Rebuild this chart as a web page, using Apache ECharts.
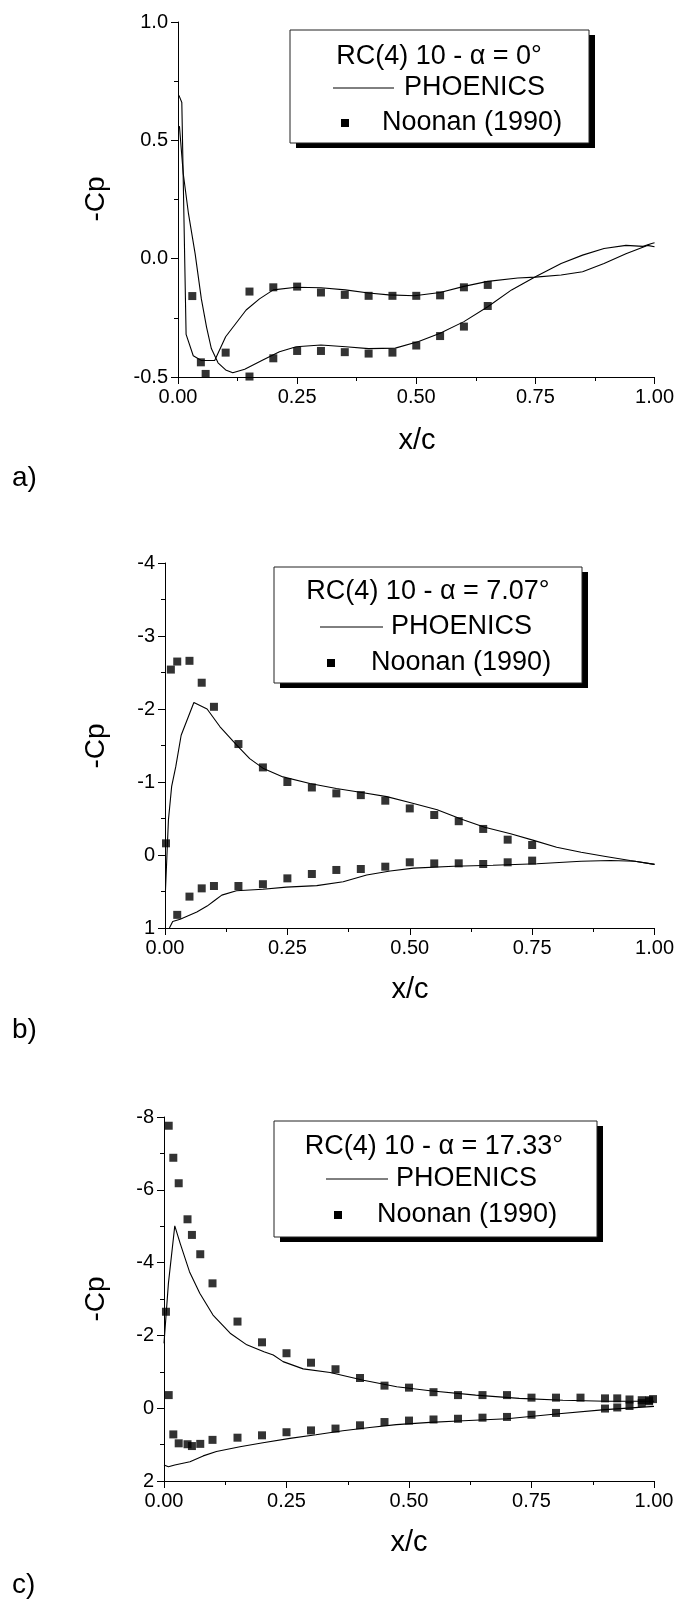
<!DOCTYPE html>
<html>
<head>
<meta charset="utf-8">
<script src="https://cdn.jsdelivr.net/npm/echarts@6/dist/echarts.min.js"></script>
<style>
html,body{margin:0;padding:0;background:#fff;}
#chart{width:677px;height:1600px;}
</style>
</head>
<body>
<div id="chart"></div>
<script>
// ---------- DATA ----------
var xTickLabels = ['0.00', '0.25', '0.50', '0.75', '1.00'];
var aYTickLabels = ['-0.5', '0.0', '0.5', '1.0'];
var bYTickLabels = ['-4', '-3', '-2', '-1', '0', '1'];
var cYTickLabels = ['-8', '-6', '-4', '-2', '0', '2'];

var panelLabels = ['a)', 'b)', 'c)'];
var legendTitles = ['RC(4) 10 - \u03b1 = 0\u00b0', 'RC(4) 10 - \u03b1 = 7.07\u00b0', 'RC(4) 10 - \u03b1 = 17.33\u00b0'];
var seriesNames = ['PHOENICS', 'Noonan (1990)'];

// Panel a) alpha = 0
var aPhoenicsA = [[0.002,0.69],[0.008,0.66],[0.017,-0.32],[0.032,-0.41],[0.049,-0.43],[0.077,-0.43],[0.10,-0.33],[0.143,-0.217],[0.171,-0.17],[0.20,-0.132],[0.248,-0.121],[0.30,-0.123],[0.351,-0.132],[0.40,-0.145],[0.442,-0.153],[0.496,-0.157],[0.55,-0.143],[0.60,-0.117],[0.65,-0.096],[0.713,-0.082],[0.75,-0.078],[0.804,-0.069],[0.849,-0.055],[0.894,-0.02],[0.94,0.021],[0.985,0.056],[1.0,0.05]];
var aPhoenicsB = [[0.003,0.56],[0.011,0.36],[0.022,0.19],[0.036,0.02],[0.049,-0.17],[0.06,-0.29],[0.07,-0.38],[0.084,-0.44],[0.10,-0.47],[0.115,-0.482],[0.14,-0.467],[0.178,-0.428],[0.213,-0.393],[0.248,-0.372],[0.30,-0.365],[0.352,-0.372],[0.40,-0.38],[0.456,-0.378],[0.505,-0.35],[0.55,-0.315],[0.60,-0.266],[0.65,-0.203],[0.70,-0.132],[0.75,-0.076],[0.804,-0.02],[0.849,0.015],[0.894,0.043],[0.94,0.056],[0.976,0.052],[0.994,0.064],[1.0,0.067]];
var aNoonan = [[0.030,-0.158],[0.048,-0.438],[0.058,-0.487],[0.10,-0.397],[0.15,-0.139],[0.15,-0.498],[0.20,-0.121],[0.20,-0.421],[0.25,-0.118],[0.25,-0.39],[0.30,-0.143],[0.30,-0.39],[0.35,-0.153],[0.35,-0.395],[0.40,-0.157],[0.40,-0.401],[0.45,-0.157],[0.45,-0.397],[0.50,-0.157],[0.50,-0.367],[0.55,-0.155],[0.55,-0.327],[0.60,-0.121],[0.60,-0.287],[0.65,-0.111],[0.65,-0.20]];

// Panel b) alpha = 7.07
var bPhoenicsUpper = [[0.001,0.48],[0.007,-0.48],[0.0136,-0.94],[0.022,-1.21],[0.033,-1.64],[0.059,-2.09],[0.086,-2.0],[0.112,-1.76],[0.146,-1.51],[0.173,-1.32],[0.2,-1.19],[0.241,-1.07],[0.296,-0.98],[0.35,-0.91],[0.405,-0.853],[0.453,-0.80],[0.5,-0.72],[0.556,-0.62],[0.606,-0.49],[0.653,-0.38],[0.706,-0.29],[0.753,-0.2],[0.80,-0.105],[0.85,-0.037],[0.90,0.02],[0.95,0.075],[1.0,0.128]];
var bPhoenicsLower = [[0.009,1.0],[0.0157,0.91],[0.031,0.88],[0.065,0.78],[0.086,0.70],[0.102,0.62],[0.116,0.55],[0.146,0.49],[0.2,0.47],[0.248,0.44],[0.31,0.42],[0.364,0.366],[0.412,0.275],[0.46,0.22],[0.508,0.18],[0.59,0.155],[0.67,0.14],[0.76,0.12],[0.85,0.085],[0.91,0.075],[0.96,0.085],[1.0,0.128]];
var bNoonan = [[0.002,-0.16],[0.012,-2.54],[0.025,-2.65],[0.05,-2.66],[0.075,-2.36],[0.10,-2.03],[0.15,-1.52],[0.20,-1.20],[0.25,-1.00],[0.30,-0.925],[0.35,-0.844],[0.40,-0.82],[0.45,-0.744],[0.50,-0.638],[0.55,-0.548],[0.60,-0.463],[0.65,-0.357],[0.70,-0.21],[0.75,-0.137],
  [0.025,0.82],[0.05,0.57],[0.075,0.457],[0.10,0.425],[0.15,0.425],[0.20,0.40],[0.25,0.32],[0.30,0.26],[0.35,0.205],[0.40,0.192],[0.45,0.16],[0.50,0.10],[0.55,0.115],[0.60,0.114],[0.65,0.123],[0.70,0.10],[0.75,0.077]];

// Panel c) alpha = 17.33
var cPhoenicsUpper = [[0.0,-1.78],[0.009,-3.43],[0.022,-5.01],[0.033,-4.53],[0.052,-3.75],[0.073,-3.16],[0.10,-2.56],[0.135,-2.06],[0.169,-1.74],[0.204,-1.55],[0.223,-1.46],[0.243,-1.28],[0.284,-1.08],[0.339,-0.98],[0.407,-0.77],[0.475,-0.59],[0.543,-0.48],[0.636,-0.36],[0.725,-0.27],[0.814,-0.22],[0.902,-0.19],[0.947,-0.19],[1.0,-0.19]];
var cPhoenicsLower = [[0.0,1.56],[0.009,1.61],[0.022,1.56],[0.053,1.47],[0.08,1.31],[0.107,1.19],[0.155,1.06],[0.202,0.95],[0.257,0.83],[0.31,0.73],[0.365,0.62],[0.42,0.53],[0.474,0.45],[0.543,0.39],[0.6,0.35],[0.7,0.29],[0.8,0.16],[0.9,0.04],[1.0,-0.05]];
var cNoonan = [[0.004,-2.65],[0.0096,-0.36],[0.0096,-7.76],[0.019,-6.88],[0.030,-6.18],[0.048,-5.19],[0.057,-4.76],[0.074,-4.23],[0.099,-3.43],[0.15,-2.38],[0.20,-1.81],[0.25,-1.51],[0.30,-1.25],[0.35,-1.07],[0.40,-0.83],[0.45,-0.62],[0.50,-0.565],[0.55,-0.44],[0.60,-0.36],[0.65,-0.36],[0.70,-0.36],[0.75,-0.29],[0.80,-0.29],[0.85,-0.29],[0.90,-0.27],[0.925,-0.27],[0.95,-0.24],[0.975,-0.22],[0.99,-0.22],[0.998,-0.25],
  [0.019,0.72],[0.030,0.965],[0.048,0.99],[0.057,1.04],[0.074,0.98],[0.099,0.87],[0.15,0.81],[0.20,0.745],[0.25,0.66],[0.30,0.61],[0.35,0.56],[0.40,0.47],[0.45,0.38],[0.50,0.34],[0.55,0.31],[0.60,0.29],[0.65,0.26],[0.70,0.24],[0.75,0.18],[0.80,0.13],[0.90,0.01],[0.925,-0.02],[0.95,-0.06],[0.975,-0.14],[0.99,-0.19]];

// ---------- CHART ----------
var FONT = 'Liberation Sans, Arial, sans-serif';
var chart = echarts.init(document.getElementById('chart'), null, {renderer: 'canvas'});

function labelFmt(arr, min, interval) {
  return function (v) {
    var i = Math.round((v - min) / interval);
    return arr[i] !== undefined ? arr[i] : '';
  };
}

function xAxisFor(gi) {
  return {
    type: 'value', gridIndex: gi, min: 0, max: 1, interval: 0.25,
    splitLine: {show: false},
    axisLine: {show: true, onZero: false, lineStyle: {color: '#000', width: 1}},
    axisTick: {show: true, inside: false, length: 7, lineStyle: {color: '#000', width: 1}},
    minorTick: {show: true, splitNumber: 2, length: 4, lineStyle: {color: '#000', width: 1}},
    axisLabel: {color: '#000', fontSize: 20, fontFamily: FONT, margin: 10,
      formatter: labelFmt(xTickLabels, 0, 0.25)}
  };
}
function yAxisFor(gi, min, max, interval, labels, inverse) {
  return {
    type: 'value', gridIndex: gi, min: min, max: max, interval: interval, inverse: inverse,
    splitLine: {show: false},
    axisLine: {show: true, onZero: false, lineStyle: {color: '#000', width: 1}},
    axisTick: {show: true, inside: false, length: 7, lineStyle: {color: '#000', width: 1}},
    minorTick: {show: true, splitNumber: 2, length: 4, lineStyle: {color: '#000', width: 1}},
    axisLabel: {color: '#000', fontSize: 20, fontFamily: FONT, margin: 10,
      formatter: labelFmt(labels, min, interval)}
  };
}
function lineSeries(gi, data) {
  return {type: 'line', name: seriesNames[0], xAxisIndex: gi, yAxisIndex: gi, data: data,
    showSymbol: false, symbol: 'none', smooth: false,
    lineStyle: {color: '#000', width: 1.1}, itemStyle: {color: '#000'}, z: 3};
}
function scatterSeries(gi, data) {
  return {type: 'scatter', name: seriesNames[1], xAxisIndex: gi, yAxisIndex: gi, data: data,
    symbol: 'rect', symbolSize: 8, itemStyle: {color: '#000'}, z: 4};
}

function text(str, x, y, size, align, vAlign, rot) {
  return {type: 'text', x: x, y: y, rotation: rot || 0, z: 10,
    style: {text: str, x: 0, y: 0, fill: '#000', font: size + 'px ' + FONT,
      textAlign: align || 'center', textVerticalAlign: vAlign || 'middle'}};
}
function legendBox(i, box, titlePos, linePos, sqPos) {
  return [
    {type: 'rect', z: 8, shape: {x: box[0] + 6, y: box[1] + 5, width: box[2], height: box[3]}, style: {fill: '#000'}},
    {type: 'rect', z: 9, shape: {x: box[0], y: box[1], width: box[2], height: box[3]}, style: {fill: '#fff', stroke: '#222', lineWidth: 1}},
    text(legendTitles[i], titlePos[0], titlePos[1], 27, 'center', 'middle'),
    {type: 'line', z: 10, shape: {x1: linePos[0], y1: linePos[2], x2: linePos[1], y2: linePos[2]}, style: {stroke: '#000', lineWidth: 1}},
    text(seriesNames[0], linePos[3], linePos[2], 27, 'left', 'middle'),
    {type: 'rect', z: 10, shape: {x: sqPos[0] - 4, y: sqPos[1] - 4, width: 8, height: 8}, style: {fill: '#000'}},
    text(seriesNames[1], sqPos[2], sqPos[1], 27, 'left', 'middle')
  ];
}

var graphics = [].concat(
  legendBox(0, [290, 30, 299, 113], [439, 57], [333, 394, 88, 404], [345, 123, 382]),
  legendBox(1, [274, 567, 308, 116], [428, 592], [320, 383, 627, 391], [331, 663, 371]),
  legendBox(2, [274, 1121, 323, 116], [434, 1147], [326, 388, 1179, 396], [338, 1215, 377]),
  [
    text('-Cp', 96, 199, 28, 'center', 'middle', Math.PI / 2),
    text('-Cp', 96, 746, 28, 'center', 'middle', Math.PI / 2),
    text('-Cp', 96, 1299, 28, 'center', 'middle', Math.PI / 2),
    text('x/c', 417, 441, 29, 'center', 'middle'),
    text('x/c', 410, 990, 29, 'center', 'middle'),
    text('x/c', 409, 1543, 29, 'center', 'middle'),
    text(panelLabels[0], 12, 478, 28, 'left', 'middle'),
    text(panelLabels[1], 12, 1030, 28, 'left', 'middle'),
    text(panelLabels[2], 12, 1585, 28, 'left', 'middle')
  ]
);

var option = {
  animation: false,
  backgroundColor: '#fff',
  grid: [
    {left: 178, top: 22, width: 479, height: 355},
    {left: 165, top: 563, width: 490, height: 365},
    {left: 164, top: 1117, width: 490, height: 364}
  ],
  xAxis: [xAxisFor(0), xAxisFor(1), xAxisFor(2)],
  yAxis: [
    yAxisFor(0, -0.5, 1.0, 0.5, aYTickLabels, false),
    yAxisFor(1, -4, 1, 1, bYTickLabels, true),
    yAxisFor(2, -8, 2, 2, cYTickLabels, true)
  ],
  series: [
    lineSeries(0, aPhoenicsA), lineSeries(0, aPhoenicsB), scatterSeries(0, aNoonan),
    lineSeries(1, bPhoenicsUpper), lineSeries(1, bPhoenicsLower), scatterSeries(1, bNoonan),
    lineSeries(2, cPhoenicsUpper), lineSeries(2, cPhoenicsLower), scatterSeries(2, cNoonan)
  ],
  graphic: graphics
};
chart.setOption(option);
</script>
</body>
</html>
